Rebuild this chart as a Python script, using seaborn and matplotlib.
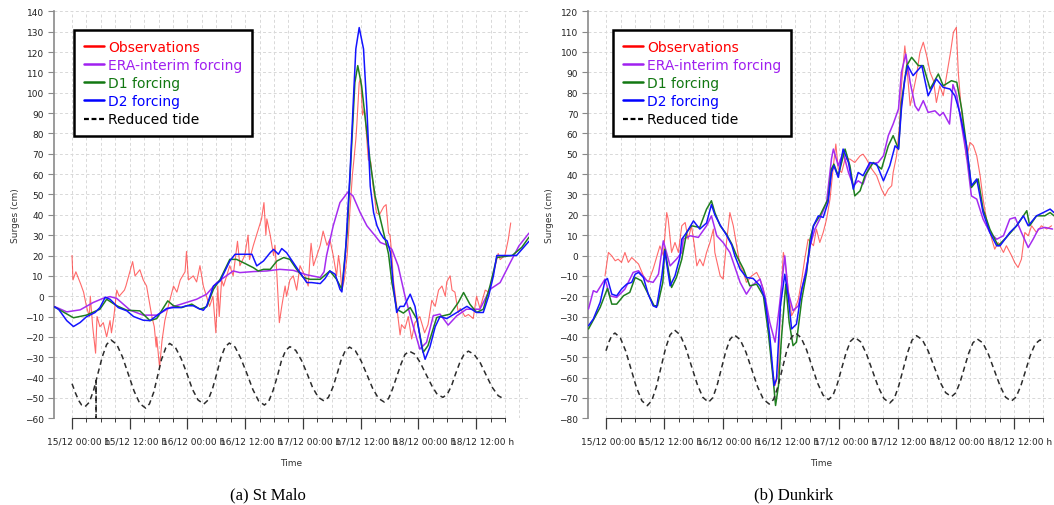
import matplotlib
matplotlib.use("Agg")
import matplotlib.pyplot as plt
import matplotlib.transforms as mtransforms
from matplotlib.lines import Line2D
from matplotlib.ticker import MultipleLocator, FixedLocator
import seaborn as sns

# ---------------------------------------------------------------------------
# Data: time in hours from 15/12 00:00, surge in cm
# ---------------------------------------------------------------------------
tick_labels = ["15/12 00:00 h", "15/12 12:00 h", "16/12 00:00 h", "16/12 12:00 h",
               "17/12 00:00 h", "17/12 12:00 h", "18/12 00:00 h", "18/12 12:00 h"]

series_names = ["Observations", "ERA-interim forcing", "D1 forcing", "D2 forcing", "Reduced tide"]

# --- St Malo ---
stmalo_obs = [
    (0, 20), (0.2, 8), (0.8, 12), (1.3, 9), (1.8, 6), (2.4, 2), (3.0, -5), (3.6, -10), (3.8, 0),
    (4.3, -15), (4.9, -28), (5.2, -10), (5.8, -15), (6.5, -13), (7.2, -20), (7.9, -12), (8.2, -18),
    (8.7, -10), (9.3, 3), (9.8, 0), (10.9, 3), (11.2, 5), (12.6, 17), (13.1, 10), (14.1, 13),
    (14.8, 8), (15.5, 5), (16.6, -10), (17.1, -15), (17.5, -25), (17.6, -20), (18.2, -35),
    (18.7, -22), (19.3, -12), (20.0, -5), (21.1, 5), (21.8, 2), (22.5, 8), (23.5, 12), (23.8, 22),
    (24.2, 8), (25.2, 10), (25.9, 7), (26.6, 15), (27.3, 5), (28.6, -5), (29.3, 0), (29.9, -18),
    (30.3, 5), (30.6, -10), (31.1, 8), (31.5, 5), (32.8, 15), (33.5, 10), (34.4, 27), (34.9, 15),
    (35.9, 20), (36.6, 30), (36.9, 18), (37.7, 25), (39.0, 35), (39.4, 38), (39.9, 46), (40.3, 30),
    (40.5, 38), (41.2, 30), (41.9, 20), (42.2, 25), (42.6, 10), (43.1, -13), (43.6, -5), (44.3, 5),
    (44.6, 0), (45.3, 8), (46.0, 10), (46.7, 3), (47.4, 15), (48.4, 10), (49.1, 5), (49.5, 20),
    (49.7, 26), (50.2, 15), (51.6, 25), (52.2, 32), (53.0, 25), (53.6, 28), (54.3, 20), (55.0, 10),
    (55.4, 20), (55.7, 15), (56.1, 3), (56.6, 8), (57.2, 20), (57.8, 43), (58.3, 60), (58.6, 67),
    (59.0, 77), (59.2, 84), (59.7, 105), (60.0, 107), (60.2, 98), (60.4, 89), (60.8, 92),
    (61.6, 67), (62.1, 66), (62.6, 54), (63.3, 41), (63.9, 40), (64.8, 44), (65.3, 45), (65.8, 31),
    (66.1, 30), (66.5, 20), (66.8, 8), (67.5, -5), (68.2, -19), (68.5, -14), (69.2, -16),
    (69.9, -10), (70.6, -21), (71.3, -13), (72.3, -10), (73.3, -18), (74.0, -14), (74.8, -2),
    (75.5, -5), (76.2, 3), (76.9, 5), (77.6, 0), (77.9, 7), (78.6, 10), (79.0, 3), (79.6, 2),
    (80.3, -8), (80.7, -6), (81.7, -10), (82.4, -9), (83.4, -11), (84.1, 0), (84.8, -6), (85.9, 3),
    (86.6, 2), (87.3, 8), (88.0, 15), (88.6, 21), (89.0, 18), (90.0, 20), (90.7, 28), (91.2, 36),
]

stmalo_era = [
    (-3.7, -5), (-1.1, -7.7), (1.7, -6.7), (4.4, -3.1), (6.5, -1), (7.9, -0.2), (9.3, -1.1),
    (12.1, -6.9), (14.8, -9.3), (17.6, -9.3), (20.4, -5.6), (23.1, -3.6), (25.9, -1.5), (28.0, 1),
    (30.1, 6.7), (33.5, 12.4), (34.9, 11.6), (37.7, 12.1), (40.5, 12.4), (43.2, 13.2), (46.0, 12.7),
    (48.8, 10.5), (51.6, 9.2), (52.4, 12), (52.9, 19.8), (54.3, 34.6), (55.7, 46), (57.4, 51.3),
    (58.4, 49.3), (59.9, 41.1), (61.3, 34.6), (63.0, 29.7), (64.1, 26.4), (65.5, 25.1), (66.5, 23),
    (67.8, 14.9), (69.2, 0.2), (70.9, -14.5), (72.3, -26), (73.7, -22.7), (75.1, -9.6), (76.5, -8.8),
    (78.2, -14.2), (80.0, -9.6), (82.0, -6.4), (84.8, -6.4), (86.9, 3.4), (89.0, 6.7), (91.1, 16.5),
    (92.9, 24.7), (95.0, 31),
]

stmalo_d1 = [
    (-3.7, -5.2), (0.3, -10.6), (3.0, -9.3), (5.8, -6.4), (7.2, -1.5), (9.3, -4.7), (11.4, -6.9),
    (14.1, -7.2), (16.2, -12), (17.6, -11), (19.9, -2.3), (21.1, -4.7), (22.8, -5.6), (24.9, -3.9),
    (26.6, -6.4), (28.0, -5.2), (29.4, 3.4), (30.8, 8.3), (32.8, 18.1), (34.2, 18.1), (35.6, 16.5),
    (37.7, 14), (38.7, 12.4), (39.8, 13.2), (41.2, 13.2), (42.6, 17.3), (44.0, 19), (45.3, 18.1),
    (46.7, 13.2), (48.1, 9.2), (49.5, 8.3), (51.6, 8.3), (53.6, 12.4), (55.0, 8.3), (56.1, 3.4),
    (57.2, 31.3), (58.2, 77.2), (58.8, 105), (59.4, 113.3), (60.2, 103.4), (60.9, 88.7),
    (62.0, 65.7), (63.0, 49.3), (64.1, 37.9), (65.1, 28), (65.8, 20.7), (66.5, 6.7), (67.5, -6.4),
    (68.9, -8.3), (70.3, -5.6), (71.7, -11.3), (73.0, -27.6), (74.0, -24.3), (75.8, -10.5),
    (77.2, -9.6), (78.6, -8.8), (80.3, -3.1), (81.4, 1.8), (82.7, -3.9), (84.1, -8), (85.5, -6.4),
    (86.9, 5.1), (88.3, 19), (91.5, 20), (93.5, 24), (95.0, 29),
]

stmalo_d2 = [
    (-3.7, -5.2), (-2.8, -6.4), (-1.1, -12), (0.3, -14.9), (1.7, -12.9), (3.0, -10.1), (4.8, -8),
    (5.8, -5.6), (6.9, -0.5), (7.9, -1.5), (9.6, -5.6), (11.4, -7.2), (12.8, -10), (14.8, -11.8),
    (16.2, -12), (17.6, -9.6), (19.7, -6), (21.1, -5.6), (22.5, -5.6), (23.8, -4.7), (25.2, -4.7),
    (26.3, -6), (27.3, -6.9), (28.0, -4.7), (29.4, 5), (30.8, 7.5), (32.8, 17.3), (33.9, 20.6),
    (35.6, 20.6), (37.4, 20.6), (38.4, 14.9), (39.8, 17.3), (41.2, 21.4), (41.9, 23), (42.9, 20.6),
    (43.6, 23.4), (44.6, 21.4), (46.0, 16.5), (47.4, 11.6), (48.8, 6.7), (49.8, 6.7), (51.6, 6.2),
    (52.6, 8.7), (53.6, 12.4), (54.7, 10.8), (55.7, 3.4), (56.1, 2.1), (56.8, 20), (57.8, 60.8),
    (58.5, 96.9), (59.0, 121.5), (59.7, 132), (60.6, 121.5), (61.3, 92), (62.0, 54), (62.7, 41),
    (63.4, 34.6), (64.1, 31), (64.8, 28.4), (65.5, 27.2), (66.2, 21.5), (66.8, 5), (67.5, -8),
    (68.2, -5), (69.0, -5), (70.3, 1), (71.3, -5), (72.7, -25), (73.4, -31), (74.4, -25),
    (75.5, -15), (76.5, -10), (77.9, -11), (79.3, -9), (80.7, -7), (82.1, -5), (84.1, -8),
    (85.5, -8), (86.6, 0), (87.6, 10), (88.3, 20), (92.4, 20), (95.0, 27),
]

stmalo_tide = [
    (0, -43), (0.7, -47.5), (1.4, -51.3), (2.0, -53.5), (2.7, -54.3), (3.6, -52.1), (4.5, -46.1),
    (5.0, -41.5), (5.0, -80), (5.0, -41.5),
    (5.4, -37.9), (6.3, -29.7), (7.2, -23.7), (8.1, -21.5), (9.3, -23.7), (10.5, -29.9),
    (11.7, -38.3), (12.9, -46.6), (14.1, -52.8), (15.3, -55), (16.1, -52.9), (17.0, -47.1),
    (17.8, -39.1), (18.6, -31.1), (19.5, -25.3), (20.3, -23.2), (21.5, -25.2), (22.7, -30.7),
    (23.9, -38.1), (25.0, -45.6), (26.2, -51), (27.4, -53), (28.3, -51), (29.2, -45.5), (30.1, -38),
    (30.9, -30.5), (31.8, -25), (32.7, -23), (33.9, -25), (35.1, -30.6), (36.4, -38.3),
    (37.6, -45.9), (38.8, -51.5), (40.0, -53.5), (40.9, -51.6), (41.8, -46.3), (42.7, -39.2),
    (43.5, -32), (44.4, -26.7), (45.3, -24.8), (46.5, -26.6), (47.7, -31.5), (48.9, -38.2),
    (50.0, -44.8), (51.2, -49.7), (52.4, -51.5), (53.3, -49.7), (54.2, -44.9), (55.1, -38.3),
    (55.9, -31.6), (56.8, -26.8), (57.7, -25), (58.9, -26.8), (60.1, -31.8), (61.3, -38.5),
    (62.5, -45.3), (63.7, -50.2), (64.9, -52), (65.8, -50.3), (66.6, -45.8), (67.5, -39.5),
    (68.4, -33.3), (69.2, -28.7), (70.1, -27), (71.3, -28.5), (72.4, -32.7), (73.6, -38.4),
    (74.8, -44), (75.9, -48.2), (77.1, -49.7), (78.0, -48.2), (78.9, -44), (79.7, -38.4),
    (80.6, -32.7), (81.5, -28.5), (82.4, -27), (83.6, -28.6), (84.9, -32.9), (86.1, -38.8),
    (87.3, -44.6), (88.6, -48.9), (89.8, -50.5),
]

# --- Dunkirk ---
dunkirk_obs = [
    (-0.2, -10), (0.5, 1.5), (1.2, -0.2), (1.9, -2.6), (2.5, -1.8), (3.2, -3.4), (3.9, 1.5),
    (4.6, -3.4), (5.3, -1), (6.0, -2.6), (6.7, -4.2), (7.7, -10), (8.7, -13.2), (9.7, -6.7),
    (11.1, 4.7), (11.8, 0), (12.5, 21.1), (12.8, 17.9), (13.5, 1.5), (14.2, 6.4), (14.9, 1.5),
    (15.6, 14.6), (16.3, 16.2), (16.9, 8), (17.6, 14.6), (18.2, 4.8), (18.7, -5.1), (19.3, -1.8),
    (20.0, -5.1), (20.7, 1.5), (21.4, 6.4), (22.1, 13), (22.4, 1.5), (23.5, -10), (24.1, -11.6),
    (24.8, 6.4), (25.5, 21.1), (26.2, 14.6), (26.9, 4.8), (27.6, -5.1), (28.3, -8.3), (28.9, -13.2),
    (30.0, -10), (31.0, -8.3), (31.7, -11.6), (32.4, -16.5), (33.4, -32.8), (34.1, -54.1),
    (34.8, -63.9), (35.5, -57.4), (35.9, -24.7), (36.5, 1.5), (36.8, -1.8), (37.5, -16.5),
    (38.2, -29.6), (38.9, -26.3), (39.6, -21.4), (40.3, -11.6), (40.9, -1.8), (41.6, 8), (42.7, 4.8),
    (43.3, 13), (44.0, 6.4), (44.7, 11.3), (45.4, 17.9), (46.1, 27.7), (46.8, 44.1), (47.3, 54.8),
    (47.8, 42.5), (48.5, 40.8), (49.2, 47.4), (50.2, 47.4), (51.2, 45.7), (52.3, 49), (52.9, 49.8),
    (53.6, 47.4), (54.7, 42.5), (55.7, 39.2), (56.7, 32.6), (57.4, 29.3), (58.1, 32.6), (58.8, 34.3),
    (59.1, 40.8), (59.8, 49), (60.4, 63.8), (60.8, 83.4), (61.5, 103), (61.9, 93.3), (62.6, 73.6),
    (63.2, 80.2), (63.9, 88.4), (64.6, 99.8), (65.3, 104.8), (66.0, 98.2), (66.7, 90), (67.4, 85.9),
    (68.0, 75.2), (68.7, 83.4), (69.4, 78.5), (70.1, 88.4), (70.9, 99.8), (71.5, 109.7),
    (72.1, 112.1), (72.5, 90), (73.0, 75.2), (73.5, 63.8), (74.2, 47.4), (74.9, 55.6), (75.6, 54),
    (76.3, 49), (77.0, 39.2), (77.6, 27.7), (78.3, 17.9), (79.4, 8), (80.0, 3.1), (80.7, 6.4),
    (81.8, 1.5), (82.4, 4.8), (83.5, -0.2), (84.1, -3.4), (84.8, -5.9), (85.5, -1.8), (86.2, 11.3),
    (86.9, 9.7), (87.6, 14.6), (88.6, 11.3), (89.6, 14.6), (90.7, 13), (91.7, 14.6),
]

dunkirk_era = [
    (-3.6, -26.3), (-2.6, -17.3), (-1.9, -18.1), (-0.2, -11.6), (0.8, -19.8), (2.2, -20.6),
    (3.9, -16.5), (5.6, -8.3), (6.7, -7.5), (8.4, -12.4), (9.7, -13.2), (10.8, -9.2), (11.8, 7.2),
    (13.2, -5.1), (14.5, -1.8), (15.6, 1.5), (15.9, 8), (17.3, 9.7), (19.0, 8.9), (20.7, 14.6),
    (21.7, 19.5), (22.8, 9.7), (24.1, 6.4), (25.5, 1.5), (26.2, -3.4), (27.6, -13.2), (28.9, -19),
    (30.0, -14.9), (31.7, -11.6), (32.7, -19.8), (33.7, -32.8), (34.8, -42.6), (35.7, -24.7),
    (36.8, -0.2), (37.5, -18.1), (38.5, -27.1), (39.6, -24.7), (40.9, -10), (41.6, -1.8), (42.0, 4.8),
    (43.0, 13), (44.0, 17.9), (45.4, 26.1), (46.4, 47.4), (46.8, 52.3), (47.8, 44.1), (48.8, 50.7),
    (49.9, 40.8), (50.9, 34.3), (51.9, 36.7), (52.9, 35.1), (54.3, 44.9), (56.0, 45.7), (57.1, 49),
    (58.1, 58.9), (59.1, 64.6), (60.2, 72), (60.8, 90), (61.7, 99), (62.6, 85.1), (63.6, 73.6),
    (64.3, 71.1), (65.3, 76.1), (66.3, 70.3), (67.7, 71.1), (68.7, 68.7), (69.4, 70.3), (70.7, 64.6),
    (71.4, 84), (72.2, 78.5), (73.2, 63.7), (74.2, 49), (75.2, 29.3), (76.3, 27.7), (77.6, 17.9),
    (79.0, 11.3), (80.4, 8), (81.8, 9.7), (83.1, 17.9), (84.2, 18.7), (85.5, 11.3), (86.9, 3.9),
    (87.9, 8), (89.0, 13), (90.3, 13.8), (91.9, 13),
]

dunkirk_d1 = [
    (-3.6, -36.1), (-1.2, -25.5), (0.3, -16.2), (1.2, -23.9), (2.2, -23.9), (3.6, -19.8),
    (4.9, -18.1), (6.0, -10.8), (7.3, -12.4), (8.7, -19), (9.9, -24.7), (10.6, -24.7), (11.7, -13.2),
    (12.1, 3.1), (13.5, -15.7), (14.5, -10.8), (15.6, -1.8), (16.6, 11.3), (17.6, 14.6), (19.3, 13.8),
    (20.7, 22.8), (21.7, 26.9), (22.4, 21.1), (23.5, 14.6), (24.8, 10.5), (25.9, 5.6), (26.9, -0.2),
    (28.3, -6.7), (29.6, -14.9), (31.0, -14.1), (32.4, -19.8), (33.4, -37.7), (34.4, -60.6),
    (34.9, -73.7), (35.5, -63.9), (36.1, -41), (37.0, -14.1), (37.7, -32.8), (38.5, -44.3),
    (39.2, -42.6), (40.3, -21.4), (41.3, -8.3), (42.0, 8), (42.7, 14.6), (44.0, 19.5), (45.7, 27.7),
    (46.4, 42.5), (46.9, 44.9), (47.8, 39.2), (49.2, 52.3), (50.2, 44.1), (51.2, 29.3), (52.3, 31.8),
    (53.3, 39.2), (55.0, 45.7), (56.7, 42.5), (58.1, 53.9), (59.1, 58.9), (60.2, 52.3), (60.8, 75.2),
    (61.9, 93.3), (62.9, 97.4), (64.3, 93.3), (65.3, 93.3), (66.7, 81.8), (68.4, 89.2), (69.4, 83.4),
    (71.1, 85.9), (72.2, 85.1), (73.2, 72), (74.2, 53.9), (75.2, 33.4), (76.6, 37.6), (77.6, 22.8),
    (79.0, 12.9), (80.7, 4.8), (82.4, 8.9), (84.5, 14.6), (85.9, 19.5), (86.6, 22), (87.2, 14.6),
    (88.6, 19.5), (90.3, 19.5), (91.4, 21.1), (92.2, 19.5),
]

dunkirk_d2 = [
    (-3.6, -34.5), (-2.6, -31.2), (-1.2, -23), (-0.2, -12.4), (0.3, -11.3), (1.2, -19), (2.2, -19.8),
    (3.2, -16.5), (4.3, -14), (5.3, -13.2), (6.0, -9.2), (6.7, -8.3), (7.7, -10.8), (8.7, -19),
    (9.7, -24.7), (10.4, -25.5), (11.5, -10), (12.1, 2.3), (13.2, -14.9), (14.2, -10), (15.2, -1),
    (15.6, 8), (16.6, 11.3), (18.0, 17), (19.3, 13), (20.7, 16), (21.7, 25), (22.4, 20), (23.5, 15),
    (24.8, 10), (25.9, 5), (26.5, 0), (27.6, -6.7), (28.9, -10.8), (30.3, -11.3), (31.7, -14.9),
    (32.7, -21.4), (33.7, -39.4), (34.6, -63.9), (35.1, -60.6), (35.9, -24.7), (36.8, -9.2),
    (37.5, -19.8), (38.2, -36.1), (39.2, -33.7), (40.3, -16.5), (41.2, -8.3), (42.0, 4.8),
    (42.7, 14.6), (43.7, 19.5), (44.7, 18.7), (45.7, 26.1), (46.4, 40.8), (46.9, 44.1), (47.8, 38.4),
    (48.8, 52.3), (49.9, 45.7), (50.9, 32.6), (51.9, 40.8), (52.9, 39.2), (54.3, 45.7), (55.7, 44.9),
    (57.1, 36.7), (58.4, 44.1), (59.5, 53.9), (60.2, 52.3), (60.8, 72), (61.5, 86.7), (62.1, 93.3),
    (63.2, 88.4), (65.0, 93.3), (66.3, 78.5), (68.0, 86.7), (69.4, 82.6), (70.8, 81.8), (71.8, 78.5),
    (72.8, 70.3), (74.2, 53.9), (75.2, 34.3), (76.3, 37.6), (77.6, 21.1), (79.0, 11.3), (80.4, 4.8),
    (81.1, 4.8), (82.1, 8), (83.1, 11.3), (84.5, 14.6), (85.9, 19.5), (86.9, 14.6), (88.6, 19.5),
    (90.0, 21.1), (91.4, 22.8), (92.2, 21.1),
]

dunkirk_tide = [
    (0, -46.8), (0.6, -42.5), (1.2, -39.3), (1.85, -38.1), (2.96, -40.5), (4.07, -47), (5.18, -56),
    (6.28, -64.9), (7.39, -71.4), (8.5, -73.8), (9.43, -71.3), (10.37, -64.5), (11.3, -55.2),
    (12.23, -45.9), (13.17, -39.1), (14.1, -36.6), (15.27, -39), (16.43, -45.5), (17.6, -54.4),
    (18.77, -63.2), (19.93, -69.7), (21.1, -72.1), (21.98, -69.9), (22.87, -63.8), (23.75, -55.6),
    (24.63, -47.3), (25.52, -41.2), (26.4, -39), (27.6, -41.3), (28.8, -47.5), (30.0, -56),
    (31.2, -64.5), (32.4, -70.7), (33.6, -73), (34.5, -70.7), (35.4, -64.3), (36.3, -55.6),
    (37.2, -46.8), (38.1, -40.4), (39.0, -38.1), (40.13, -40.3), (41.27, -46.3), (42.4, -54.5),
    (43.53, -62.6), (44.67, -68.6), (45.8, -70.8), (46.7, -68.8), (47.6, -63.2), (48.5, -55.5),
    (49.4, -47.9), (50.3, -42.2), (51.2, -40.2), (52.4, -42.4), (53.6, -48.3), (54.8, -56.4),
    (56.0, -64.4), (57.2, -70.3), (58.4, -72.5), (59.32, -70.3), (60.23, -64.2), (61.15, -56),
    (62.07, -47.7), (62.98, -41.6), (63.9, -39.4), (65.1, -41.4), (66.3, -46.9), (67.5, -54.4),
    (68.7, -61.9), (69.9, -67.4), (71.1, -69.4), (71.98, -67.5), (72.87, -62.3), (73.75, -55.2),
    (74.63, -48.1), (75.52, -42.9), (76.4, -41), (77.57, -43), (78.73, -48.7), (79.9, -56.3),
    (81.07, -63.9), (82.23, -69.6), (83.4, -71.6), (84.38, -69.6), (85.37, -64.1), (86.35, -56.6),
    (87.33, -49), (88.32, -43.5), (89.3, -41.5), (89.9, -42),
]

# ---------------------------------------------------------------------------
# Styling
# ---------------------------------------------------------------------------
sns.set_style("white")
plt.rcParams["font.family"] = ["DejaVu Sans"]

colors = {
    "Observations": "#ff1a1a",
    "ERA-interim forcing": "#a52cf0",
    "D1 forcing": "#1f7f1f",
    "D2 forcing": "#1414ff",
    "Reduced tide": "#2b2b2b",
}
legend_text_colors = {
    "Observations": "#ff0000",
    "ERA-interim forcing": "#a020f0",
    "D1 forcing": "#127812",
    "D2 forcing": "#0000ff",
    "Reduced tide": "#000000",
}

W, H = 1054, 506
fig = plt.figure(figsize=(W / 100, H / 100), dpi=100)

ax_top, ax_bot = 12.3, 419.3
axes_px = [(53.5, 529.0), (588.0, 1054.0)]
axes = [fig.add_axes([x0 / W, 1 - ax_bot / H, (x1 - x0) / W, (ax_bot - ax_top) / H])
        for x0, x1 in axes_px]

panels = [
    dict(ax=axes[0], obs=stmalo_obs, era=stmalo_era, d1=stmalo_d1, d2=stmalo_d2, tide=stmalo_tide,
         xlim=(-3.85, 95.0), ylim=(-60, 140), caption="(a) St Malo", cap_x=268, leg_x=0.043),
    dict(ax=axes[1], obs=dunkirk_obs, era=dunkirk_era, d1=dunkirk_d1, d2=dunkirk_d2, tide=dunkirk_tide,
         xlim=(-3.7, 92.2), ylim=(-80, 120), caption="(b) Dunkirk", cap_x=794, leg_x=0.054),
]

grid_kw = dict(color="#d8d8d8", linewidth=0.7, linestyle=(0, (3, 2.5)))


def draw_series(ax, pts, **kw):
    xs = [p[0] for p in pts]
    ys = [p[1] for p in pts]
    sns.lineplot(x=xs, y=ys, ax=ax, estimator=None, sort=False, legend=False, **kw)


for p in panels:
    ax = p["ax"]
    ax.set_xlim(*p["xlim"])
    ax.set_ylim(*p["ylim"])

    # grid
    ax.yaxis.set_major_locator(MultipleLocator(10))
    for yv in range(p["ylim"][0], p["ylim"][1] + 1, 10):
        ax.axhline(yv, zorder=0, **grid_kw)
    t = 0
    while t <= p["xlim"][1]:
        ax.axvline(t, zorder=0, **grid_kw)
        t += 3

    draw_series(ax, p["obs"], color=colors["Observations"], linewidth=0.8, alpha=0.65, zorder=2)
    draw_series(ax, p["era"], color=colors["ERA-interim forcing"], linewidth=1.1, zorder=3)
    draw_series(ax, p["d1"], color=colors["D1 forcing"], linewidth=1.1, zorder=4)
    draw_series(ax, p["d2"], color=colors["D2 forcing"], linewidth=1.1, zorder=5)
    draw_series(ax, p["tide"], color=colors["Reduced tide"], linewidth=1.1,
                linestyle=(0, (3.5, 2.5)), zorder=6)

    ax.set_xlim(*p["xlim"])
    ax.set_ylim(*p["ylim"])

    # axes frame
    for side in ("top", "right"):
        ax.spines[side].set_visible(False)
    ax.spines["left"].set_color("#8a8a8a")
    ax.spines["left"].set_linewidth(1.2)
    ax.spines["bottom"].set_color("#3a3a3a")
    ax.spines["bottom"].set_linewidth(0.8)
    ax.spines["bottom"].set_bounds(0, 90)

    ax.xaxis.set_major_locator(FixedLocator(list(range(0, 85, 12))))
    ax.xaxis.set_minor_locator(FixedLocator([h for h in range(3, 91, 3) if h % 12]))
    ax.set_xticklabels(tick_labels)
    ax.tick_params(axis="x", which="major", length=8, width=0.9, color="#3a3a3a",
                   pad=5, labelsize=6.5, labelcolor="#222222", bottom=True)
    ax.tick_params(axis="x", which="minor", length=3, width=0.7, color="#3a3a3a", bottom=True)
    ax.tick_params(axis="y", which="major", length=4, width=0.8, color="#8a8a8a",
                   pad=3, labelsize=6.5, labelcolor="#222222", left=True)
    shift = mtransforms.ScaledTranslation(4.5 / 72, 0, fig.dpi_scale_trans)
    for lab in ax.get_xticklabels():
        lab.set_transform(lab.get_transform() + shift)

    ax.set_xlabel("Time", fontsize=6.5, color="#333333", labelpad=9)
    ax.set_ylabel("Surges (cm)", fontsize=6.5, color="#333333", labelpad=3.5)
    ax.grid(False)

    handles = [Line2D([], [], color=legend_text_colors[n] if n != "Reduced tide" else "#000000",
                      linewidth=1.8 if n != "Reduced tide" else 1.6,
                      linestyle="-" if n != "Reduced tide" else (0, (2.2, 1.2)))
               for n in series_names]
    leg = ax.legend(handles, series_names, loc="upper left",
                    bbox_to_anchor=(p["leg_x"], 0.954),
                    fontsize=10, frameon=True, fancybox=False, framealpha=1,
                    edgecolor="black", borderpad=0.7, handlelength=1.45,
                    handletextpad=0.3, labelspacing=0.3, borderaxespad=0)
    leg.get_frame().set_linewidth(1.8)
    for txt, name in zip(leg.get_texts(), series_names):
        txt.set_color(legend_text_colors[name])

    fig.text(p["cap_x"] / W, 1 - 495 / H, p["caption"], family="Liberation Serif",
             fontsize=12, ha="center", va="center", color="black")

fig.savefig("out.png", dpi=100, facecolor="white")
